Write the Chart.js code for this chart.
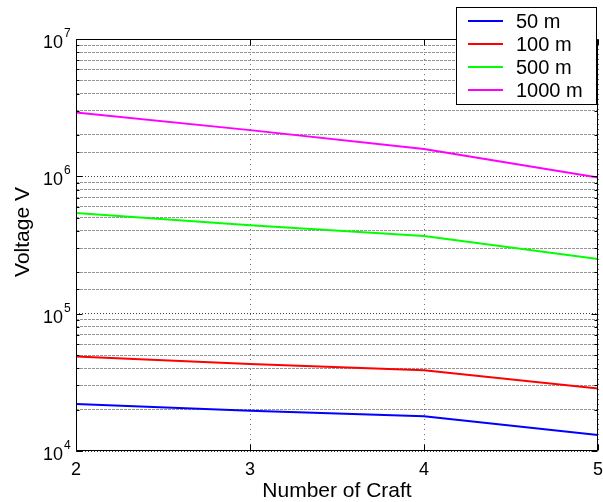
<!DOCTYPE html>
<html>
<head>
<meta charset="utf-8">
<script src="https://cdn.jsdelivr.net/npm/chart.js@4/dist/chart.umd.min.js"></script>
<style>
  html, body { margin: 0; padding: 0; background: #fff; }
  #wrap { width: 603px; height: 502px; }
</style>
</head>
<body>
<div id="wrap"><canvas id="c" width="603" height="502"></canvas></div>
<script>
// Number of craft on the x axis
const craftCounts = [2, 3, 4, 5];
// Voltage (V) for each separation distance
const volts50m   = [2.2e4, 1.96e4, 1.79e4, 1.31e4];
const volts100m  = [4.88e4, 4.3e4, 3.88e4, 2.85e4];
const volts500m  = [5.4e5, 4.4e5, 3.68e5, 2.5e5];
const volts1000m = [2.92e6, 2.17e6, 1.58e6, 9.8e5];
const seriesLabels = ['50 m', '100 m', '500 m', '1000 m'];
const seriesColors = ['#0000ff', '#ff0000', '#00ff00', '#ff00ff'];
const xTickValues = [2, 3, 4, 5];
const yDecadeExponents = [4, 5, 6, 7];
const yAxisTitle = 'Voltage V';

const FONT = '"Liberation Sans", Arial, Helvetica, sans-serif';

function toPoints(ys) {
  return craftCounts.map((x, i) => ({ x: x, y: ys[i] }));
}

function isDecade(v) {
  const l = Math.log10(v);
  return Math.abs(l - Math.round(l)) < 1e-9;
}

// Box frame, decade tick labels with superscripts, y title and the legend
const decorPlugin = {
  id: 'decor',
  afterDatasetsDraw(chart) {
    const { ctx, chartArea: a, scales } = chart;
    const ys = scales.y;
    ctx.save();
    ctx.strokeStyle = '#000';
    ctx.lineWidth = 1;
    const L = Math.round(a.left) + 0.5, R = Math.round(a.right) - 0.5;
    const T = Math.round(a.top) + 0.5, B = Math.round(a.bottom) - 0.5;
    // inward tick marks on the left and right edges
    ys.ticks.forEach(t => {
      const y = Math.round(ys.getPixelForValue(t.value)) + 0.5;
      const len = isDecade(t.value) ? 6 : 3;
      ctx.beginPath();
      ctx.moveTo(L, y); ctx.lineTo(L + len, y);
      ctx.moveTo(R, y); ctx.lineTo(R - len, y);
      ctx.stroke();
    });
    // inward tick marks on the bottom and top edges
    xTickValues.forEach(v => {
      const x = Math.round(scales.x.getPixelForValue(v)) + 0.5;
      ctx.beginPath();
      ctx.moveTo(x, B); ctx.lineTo(x, B - 6);
      ctx.moveTo(x, T); ctx.lineTo(x, T + 6);
      ctx.stroke();
    });
    ctx.beginPath();
    ctx.rect(L, T, R - L, B - T);
    ctx.stroke();
    ctx.restore();
  },
  afterDraw(chart) {
    const { ctx, chartArea: a, scales } = chart;
    const ys = scales.y;
    ctx.save();
    ctx.fillStyle = '#000';
    // decade labels: "10" with a raised exponent
    yDecadeExponents.forEach(e => {
      const y = ys.getPixelForValue(Math.pow(10, e));
      const xr = a.left - 13;
      ctx.font = '18px ' + FONT;
      ctx.textAlign = 'right';
      ctx.textBaseline = 'alphabetic';
      ctx.fillText('10', xr, y + 9);
      ctx.font = '12px ' + FONT;
      ctx.textAlign = 'left';
      ctx.fillText(String(e), xr + 1, y - 2);
    });

    // rotated y-axis title
    ctx.save();
    ctx.translate(23, 232);
    ctx.rotate(-Math.PI / 2);
    ctx.font = '21px ' + FONT;
    ctx.textAlign = 'center';
    ctx.textBaseline = 'middle';
    ctx.fillText(yAxisTitle, 0, 0);
    ctx.restore();

    // legend box
    const bx = 456.5, by = 7.5, bw = 140, bh = 97;
    ctx.fillStyle = '#fff';
    ctx.fillRect(bx, by, bw, bh);
    ctx.strokeStyle = '#000';
    ctx.lineWidth = 1;
    ctx.strokeRect(bx, by, bw, bh);
    ctx.font = '20px ' + FONT;
    ctx.textAlign = 'left';
    ctx.textBaseline = 'middle';
    chart.data.datasets.forEach((ds, i) => {
      const cy = 21 + i * 23;
      ctx.strokeStyle = ds.borderColor;
      ctx.lineWidth = 2;
      ctx.beginPath();
      ctx.moveTo(468, cy); ctx.lineTo(503, cy);
      ctx.stroke();
      ctx.fillStyle = '#000';
      ctx.fillText(ds.label, 516, cy + 1);
    });
    ctx.restore();
  }
};

const datasets = [volts50m, volts100m, volts500m, volts1000m].map((vals, i) => ({
  label: seriesLabels[i],
  data: toPoints(vals),
  borderColor: seriesColors[i],
  backgroundColor: seriesColors[i],
  borderWidth: 2,
  pointRadius: 0,
  tension: 0,
  fill: false
}));

new Chart(document.getElementById('c'), {
  type: 'line',
  data: { datasets: datasets },
  plugins: [decorPlugin],
  options: {
    responsive: false,
    animation: false,
    devicePixelRatio: 1,
    layout: { padding: { top: 39, right: 5, left: 0, bottom: 0 } },
    plugins: { legend: { display: false }, tooltip: { enabled: false } },
    scales: {
      x: {
        type: 'linear',
        min: 2,
        max: 5,
        afterFit: s => { s.height = 51; s.paddingLeft = 0; s.paddingRight = 0; },
        afterBuildTicks: s => { s.ticks = xTickValues.map(v => ({ value: v })); },
        ticks: {
          color: '#000',
          font: { family: FONT, size: 18 },
          padding: 8,
          maxRotation: 0,
          autoSkip: false,
          callback: v => String(v)
        },
        grid: {
          color: 'rgba(0,0,0,0.55)',
          lineWidth: 1,
          drawTicks: false
        },
        border: { display: false, dash: [1, 4] },
        title: {
          display: true,
          text: 'Number of Craft',
          color: '#000',
          font: { family: FONT, size: 21, lineHeight: 1.05 },
          padding: { top: 0, bottom: 0 }
        }
      },
      y: {
        type: 'logarithmic',
        min: 1e4,
        max: 1e7,
        afterFit: s => { s.width = 76; },
        ticks: { display: false, autoSkip: false },
        grid: {
          color: c => (c.tick && isDecade(c.tick.value)) ? 'rgba(0,0,0,0.75)' : 'rgba(0,0,0,0.42)',
          lineWidth: 1,
          drawTicks: false
        },
        border: {
          display: false,
          dash: c => (c.tick && isDecade(c.tick.value)) ? [1, 2] : [3, 1]
        },
        title: { display: false }
      }
    }
  }
});
</script>
</body>
</html>
